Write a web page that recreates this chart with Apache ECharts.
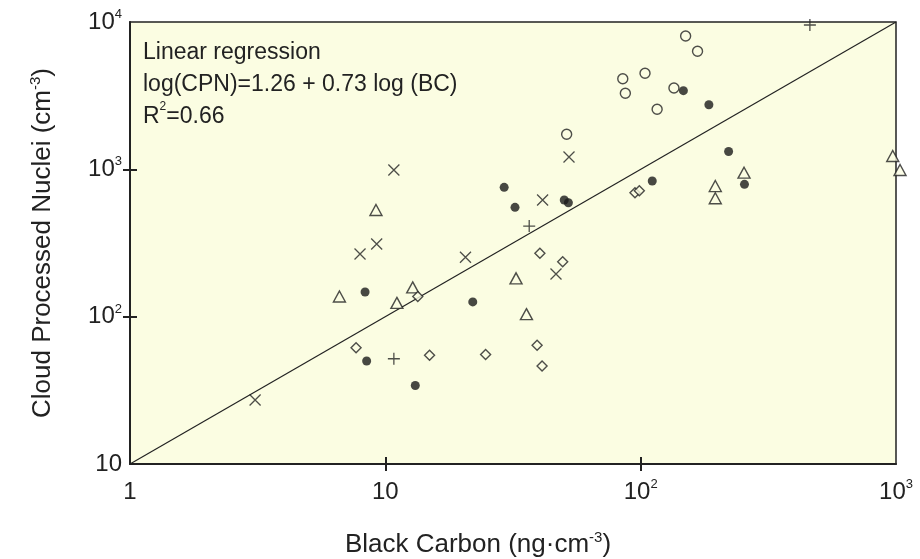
<!DOCTYPE html>
<html>
<head>
<meta charset="utf-8">
<script src="https://cdn.jsdelivr.net/npm/echarts@6/dist/echarts.min.js"></script>
<style>
html,body{margin:0;padding:0;background:#fff;}
#chart{width:920px;height:559px;}
</style>
</head>
<body>
<div id="chart"></div>
<script>
// values: black carbon (ng/m3) vs cloud processed nuclei (cm-3)
var filledBC  = [8.33, 13.1, 8.45, 22.0, 29.2, 32.2, 50.2, 52.1, 111, 147, 185, 221, 255];
var filledCPN = [147, 34.1, 50.0, 126, 755, 552, 619, 593, 833, 3418, 2746, 1322, 791];

var openBC  = [51.3, 85.1, 87.1, 104, 116, 135, 150, 167];
var openCPN = [1729, 4123, 3282, 4485, 2555, 3565, 8035, 6327];

var triBC  = [6.61, 9.19, 11.1, 12.8, 32.5, 35.7, 196, 196, 254, 971, 1037];
var triCPN = [137, 530, 124, 158, 182, 104, 770, 636, 949, 1232, 990];

var diaBC  = [7.68, 13.4, 14.9, 24.7, 39.3, 41.1, 40.3, 49.5, 95.0, 98.8];
var diaCPN = [61.6, 137, 54.7, 55.4, 63.9, 46.3, 269, 236, 694, 716];

var crossBC  = [3.09, 7.96, 9.25, 10.8, 20.6, 41.3, 46.6, 52.4];
var crossCPN = [27.2, 266, 311, 990, 253, 619, 195, 1213];

var plusBC  = [10.8, 36.6, 460];
var plusCPN = [51.8, 412, 9544];

// regression line as drawn
var fitBC  = [1, 1000];
var fitCPN = [10, 10000];

var xTickVals = [10, 100];
var yTickVals = [100, 1000];

var bg = '#fbfde2';
var ink = '#222';
var font = "'Liberation Sans', Arial, sans-serif";

function zip(a, b) {
	var out = [];
	for (var i = 0; i < a.length; i++) out.push([a[i], b[i]]);
	return out;
}

function powLabel(v) {
	var e = Math.round(Math.log(v) / Math.LN10);
	if (e == 0) return '{n|1}';
	if (e == 1) return '{n|10}';
	return '{n|10}{s|' + e + '}';
}

var richLbl = {
	n: {fontSize: 24, fontFamily: font, color: ink, lineHeight: 28},
	s: {fontSize: 13, fontFamily: font, color: ink, verticalAlign: 'top', lineHeight: 14}
};
var richName = {
	n: {fontSize: 26, fontFamily: font, color: ink, lineHeight: 30},
	s: {fontSize: 15, fontFamily: font, color: ink, verticalAlign: 'top', lineHeight: 16}
};

function openItem() {
	return {color: bg, borderColor: ink, borderWidth: 1.4};
}
function lineItem() {
	return {color: 'transparent', borderColor: ink, borderWidth: 1.3};
}

var myChart = echarts.init(document.getElementById('chart'));
var option = {
	backgroundColor: '#fff',
	animation: false,
	grid: {
		left: 130, right: 24, top: 22, bottom: 95,
		outerBoundsMode: 'none', containLabel: false,
		show: true, backgroundColor: bg, borderColor: ink, borderWidth: 1.5
	},
	xAxis: [{
		type: 'log', logBase: 10, min: 1, max: 1000,
		position: 'bottom',
		axisLine: {show: true, lineStyle: {color: ink, width: 2}},
		axisTick: {show: true, inside: true, length: 7, customValues: xTickVals, lineStyle: {color: ink, width: 2}},
		axisLabel: {margin: 14, formatter: powLabel, rich: richLbl},
		splitLine: {show: false},
		name: '{n|Black Carbon (ng·cm}{s|-3}{n|)}',
		nameLocation: 'middle', nameGap: 66,
		nameTextStyle: {rich: richName, padding: [0, 70, 0, 0]}
	}, {
		type: 'log', logBase: 10, min: 1, max: 1000,
		position: 'bottom',
		axisLine: {show: false},
		axisTick: {show: true, inside: false, length: 7, customValues: xTickVals, lineStyle: {color: ink, width: 2}},
		axisLabel: {show: false},
		splitLine: {show: false}
	}],
	yAxis: [{
		type: 'log', logBase: 10, min: 10, max: 10000,
		position: 'left',
		axisLine: {show: true, lineStyle: {color: ink, width: 2}},
		axisTick: {show: true, inside: true, length: 7, customValues: yTickVals, lineStyle: {color: ink, width: 2}},
		axisLabel: {margin: 8, formatter: powLabel, rich: richLbl},
		splitLine: {show: false},
		name: '{n|Cloud Processed Nuclei (cm}{s|-3}{n|)}',
		nameLocation: 'middle', nameGap: 72, nameRotate: 90,
		nameTextStyle: {rich: richName}
	}, {
		type: 'log', logBase: 10, min: 10, max: 10000,
		position: 'left',
		axisLine: {show: false},
		axisTick: {show: true, inside: false, length: 7, customValues: yTickVals, lineStyle: {color: ink, width: 2}},
		axisLabel: {show: false},
		splitLine: {show: false}
	}],
	graphic: [{
		type: 'text', left: 143, top: 37,
		style: {
			text: 'Linear regression\nlog(CPN)=1.26 + 0.73 log (BC)\n{t|R}{u|2}{t|=0.66}',
			font: '23px ' + font, fill: ink, lineHeight: 32,
			rich: {
				t: {fontSize: 23, fontFamily: font, fill: ink, lineHeight: 32},
				u: {fontSize: 12, fontFamily: font, fill: ink, verticalAlign: 'top', lineHeight: 12}
			}
		}
	}],
	series: [{
		type: 'line', data: zip(fitBC, fitCPN), symbol: 'none', z: 1,
		lineStyle: {color: ink, width: 1.2}
	}, {
		type: 'scatter', data: zip(filledBC, filledCPN), symbol: 'circle', symbolSize: 9,
		itemStyle: {color: '#1a1a1a'}
	}, {
		type: 'scatter', data: zip(openBC, openCPN), symbol: 'circle', symbolSize: 10,
		itemStyle: openItem()
	}, {
		type: 'scatter', data: zip(triBC, triCPN), symbol: 'triangle', symbolSize: [12, 11],
		clip: false, itemStyle: openItem()
	}, {
		type: 'scatter', data: zip(diaBC, diaCPN), symbol: 'diamond', symbolSize: [10, 10],
		itemStyle: openItem()
	}, {
		type: 'scatter', data: zip(crossBC, crossCPN), symbol: 'path://M0,0L10,10M10,0L0,10', symbolSize: 11,
		itemStyle: lineItem()
	}, {
		type: 'scatter', data: zip(plusBC, plusCPN), symbol: 'path://M5,0L5,10M0,5L10,5', symbolSize: 12,
		clip: false, itemStyle: lineItem()
	}]
};
myChart.setOption(option);
</script>
</body>
</html>
